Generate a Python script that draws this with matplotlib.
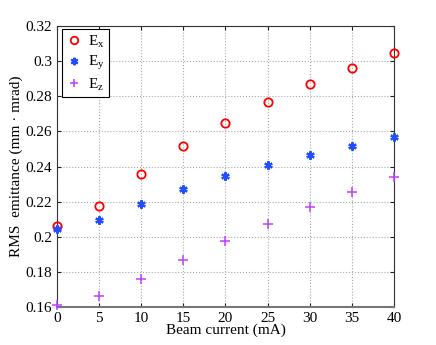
import numpy as np
from matplotlib import pyplot as plt

plt.rcParams['font.family'] = ['Liberation Serif', 'DejaVu Serif']
plt.rcParams['mathtext.fontset'] = 'custom'
plt.rcParams['mathtext.rm'] = 'Liberation Serif'
plt.rcParams['mathtext.it'] = 'Liberation Serif'

current = [0, 5, 10, 15, 20, 25, 30, 35, 40]
ex = [0.2063, 0.2177, 0.2355, 0.2515, 0.2649, 0.2765, 0.2868, 0.2961, 0.3048]
ey = [0.2042, 0.2095, 0.2188, 0.2272, 0.2346, 0.2408, 0.2465, 0.2518, 0.2570]
ez = [0.1613, 0.1662, 0.1761, 0.1869, 0.1977, 0.2074, 0.2167, 0.2255, 0.2340]


def main():
    fig = plt.figure(figsize=(4.36, 3.45), dpi=100)
    ax = fig.add_axes([0.1307, 0.1101, 0.7730, 0.8145])

    ax.plot(current, ex, linestyle="", marker="o", ms=6, mfc="none",
            mec="#ff0000", mew=1.3, label=r"E$_\mathrm{x}$", clip_on=False, zorder=3)
    ax.plot(current, ey, linestyle="", marker=(6, 2, 0), ms=6, mfc="#1f4fff",
            mec="#1f4fff", mew=1.6, label=r"E$_\mathrm{y}$", clip_on=False, zorder=3)
    ax.plot(current, ez, linestyle="", marker="+", ms=7, mec="#bf40ff",
            mew=1.1, label=r"E$_\mathrm{z}$", clip_on=False, zorder=3)

    ax.set_xlim(0, 40)
    ax.set_ylim(0.16, 0.32)
    ax.set_xticks(current)
    ax.set_yticks(np.arange(0.16, 0.321, 0.02))
    ax.set_yticklabels(["0.16", "0.18", "0.2", "0.22", "0.24", "0.26", "0.28", "0.3", "0.32"])
    ax.tick_params(direction="in", top=True, right=True, labelsize=11, length=3,
                   colors="#222222", labelcolor="black")
    ax.grid(True, linestyle=":", color="#aaaaaa", linewidth=0.8)
    for s in ax.spines.values():
        s.set_color("#333333")
        s.set_linewidth(0.8)
    ax.spines["bottom"].set_color("#777777")
    ax.spines["bottom"].set_linewidth(1.5)

    ax.set_xlabel("Beam current (mA)", fontsize=11, labelpad=-1)
    ax.set_ylabel("RMS  emittance (mm · mrad)", fontsize=11, labelpad=2)

    leg = ax.legend(loc="upper left", bbox_to_anchor=(0.015, 0.99), fontsize=11,
                    fancybox=False, framealpha=1, edgecolor="black",
                    handletextpad=0.4, handlelength=1.0, borderpad=0.3,
                    borderaxespad=0, labelspacing=0.3, markerscale=0.9)
    leg.get_frame().set_linewidth(0.8)

    fig.savefig("out.png", dpi=100)
    plt.close(fig)


if __name__ == '__main__':
    main()
